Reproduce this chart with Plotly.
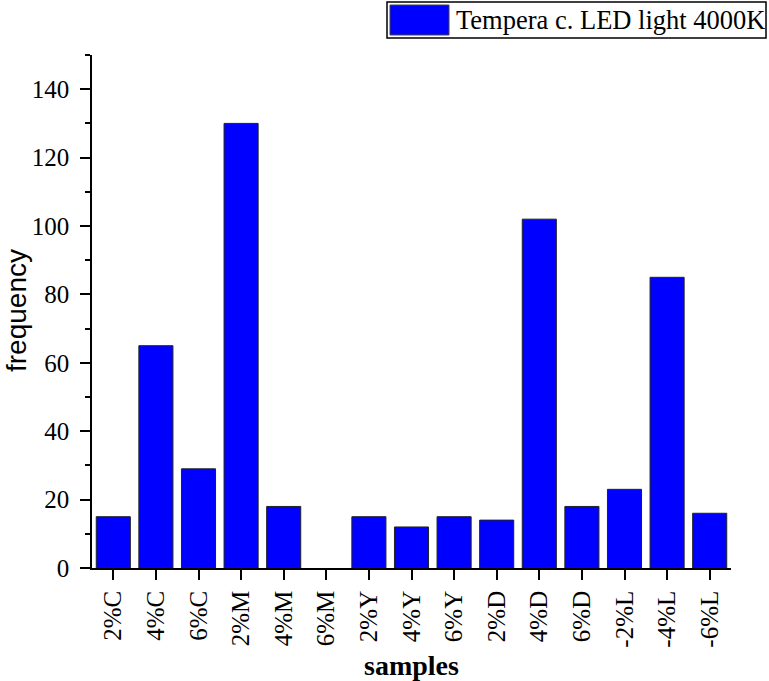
import plotly.graph_objects as go

categories = ["2%C", "4%C", "6%C", "2%M", "4%M", "6%M", "2%Y", "4%Y", "6%Y",
              "2%D", "4%D", "6%D", "-2%L", "-4%L", "-6%L"]
frequency = [15, 65, 29, 130, 18, 0, 15, 12, 15, 14, 102, 18, 23, 85, 16]
series_name = "Tempera c. LED light 4000K"

W, H = 769, 681
ml, mr, mt, mb = 92, 38, 55, 113

serif = "Liberation Serif, Times New Roman, serif"
sans = "Liberation Sans, Arial, sans-serif"

fig = go.Figure()
fig.add_trace(go.Bar(
    x=categories, y=frequency, name=series_name,
    marker=dict(color="#0000FF",
                line=dict(color="#222222", width=[0 if v == 0 else 1 for v in frequency])),
    showlegend=False,
))

fig.update_layout(
    width=W, height=H,
    margin=dict(l=ml, r=mr, t=mt, b=mb, autoexpand=False),
    paper_bgcolor="white", plot_bgcolor="white",
    bargap=0.2,
    font=dict(family=serif, color="black"),
    xaxis=dict(
        automargin=False,
        showline=True, linecolor="black", linewidth=1.5,
        ticks="outside", ticklen=10, tickwidth=1.5, tickcolor="black",
        tickangle=-90, tickfont=dict(family=serif, size=25),
        ticklabelstandoff=1,
        showgrid=False, zeroline=False,
        minor=dict(ticks="outside", ticklen=5, tickwidth=1.5, tickcolor="black", showgrid=False),
    ),
    yaxis=dict(
        automargin=False,
        range=[0, 150], dtick=20, tick0=0,
        showline=True, linecolor="black", linewidth=1.5,
        ticks="outside", ticklen=10, tickwidth=1.5, tickcolor="black",
        tickfont=dict(family=serif, size=25),
        ticklabelstandoff=6,
        showgrid=False, zeroline=False,
        minor=dict(dtick=10, ticks="outside", ticklen=5, tickwidth=1.5, tickcolor="black", showgrid=False),
    ),
)

# convert page pixel positions to paper coordinates
def px_x(v):
    return (v - ml) / (W - ml - mr)

def px_y(v):
    return 1 - (v - mt) / (H - mt - mb)

# axis titles
fig.add_annotation(xref="paper", yref="paper", x=px_x(411), y=px_y(665),
                   xanchor="center", yanchor="middle", showarrow=False,
                   text="<b>samples</b>", font=dict(family=serif, size=28, color="black"))
fig.add_annotation(xref="paper", yref="paper", x=px_x(16), y=px_y(311),
                   xanchor="center", yanchor="middle", showarrow=False, textangle=-90,
                   text="frequency", font=dict(family=sans, size=28, color="black"))

# legend box
fig.add_shape(type="rect", xref="paper", yref="paper",
              x0=px_x(387), x1=px_x(766), y0=px_y(38), y1=px_y(2),
              line=dict(color="black", width=1.5), fillcolor="white", layer="above")
fig.add_shape(type="rect", xref="paper", yref="paper",
              x0=px_x(390), x1=px_x(449), y0=px_y(35), y1=px_y(5),
              line=dict(color="#444444", width=1), fillcolor="#0000FF", layer="above")
fig.add_annotation(xref="paper", yref="paper", x=px_x(454), y=px_y(20),
                   xanchor="left", yanchor="middle", showarrow=False,
                   text=series_name, font=dict(family=serif, size=26.5, color="black"))

fig.write_html("out.html", config={"displayModeBar": False},
               post_script="document.body.style.margin='0';document.body.style.overflow='hidden';")
